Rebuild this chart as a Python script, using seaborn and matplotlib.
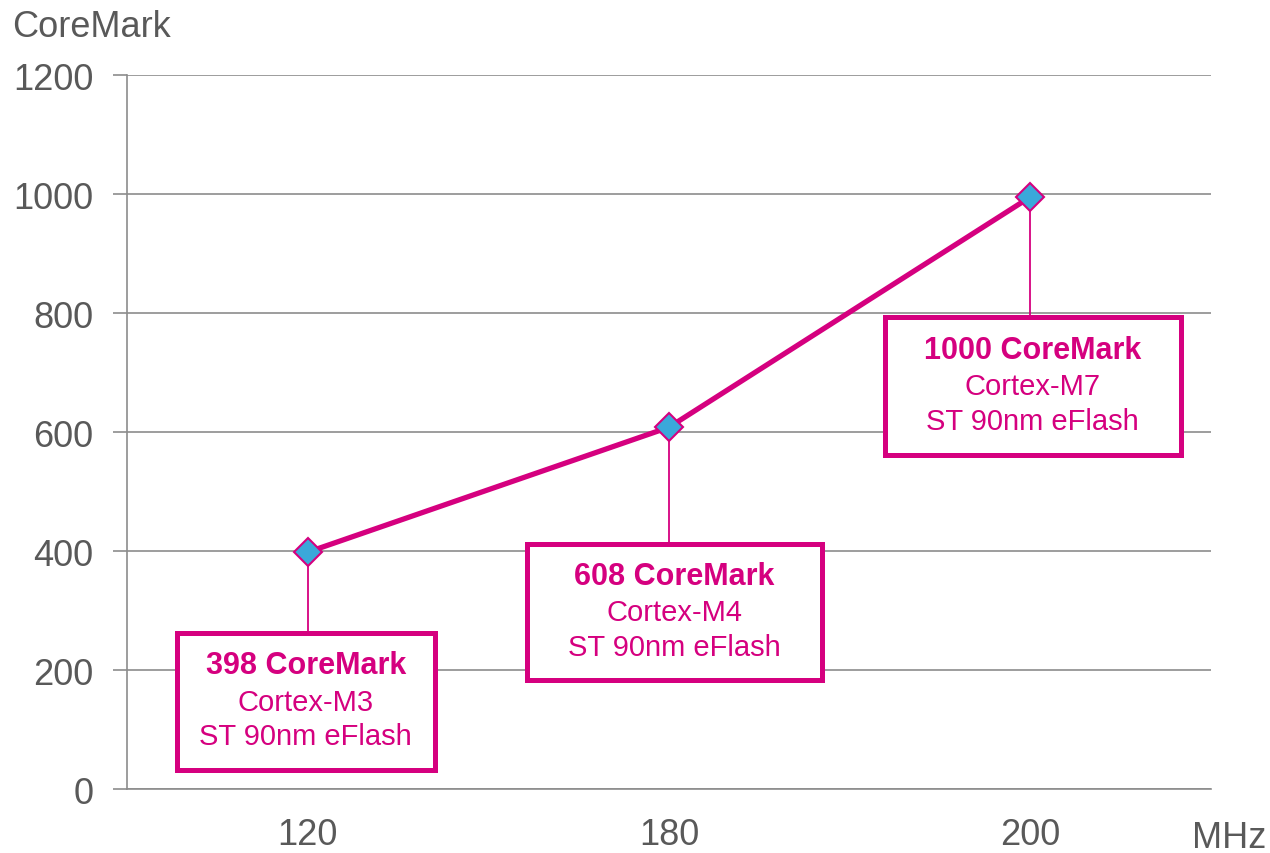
import pandas as pd
import matplotlib.pyplot as plt
import seaborn as sns
from matplotlib.patches import Rectangle

mhz = ["120", "180", "200"]
coremark = [398, 608, 995]
score_labels = ["398 CoreMark", "608 CoreMark", "1000 CoreMark"]
cores = ["Cortex-M3", "Cortex-M4", "Cortex-M7"]
process = ["ST 90nm eFlash", "ST 90nm eFlash", "ST 90nm eFlash"]

# box extents (x offset from point, y in data units)
box_x = [(-0.363, 0.352), (-0.393, 0.424), (-0.402, 0.416)]
box_y = [(32, 262), (183, 412), (561, 793)]

magenta = "#D5007F"
gray = "#595959"
gridc = "#8C8C8C"

df = pd.DataFrame({"MHz": mhz, "CoreMark": coremark})

sns.set_style("white")
plt.rcParams["font.family"] = ["Liberation Sans", "DejaVu Sans"]

fig = plt.figure(figsize=(12.7, 8.54), dpi=100)
ax = fig.add_axes([0.1, 0.0749, 0.8535, 0.8361])

sns.lineplot(data=df, x="MHz", y="CoreMark", ax=ax, color=magenta, lw=3.8,
             marker="D", markersize=14, markerfacecolor="#3AA8DA",
             markeredgecolor=magenta, markeredgewidth=1.5, sort=False, zorder=5)

ax.set_xlim(-0.5, 2.5)
ax.set_ylim(0, 1200)
ax.set_yticks(range(0, 1201, 200))
ax.grid(axis="y", color=gridc, lw=1.2)
ax.grid(axis="x", visible=False)
for s in ["top", "right"]:
    ax.spines[s].set_visible(False)
for s in ["left", "bottom"]:
    ax.spines[s].set_color(gridc)
    ax.spines[s].set_linewidth(1.2)

ax.set_xticks([0, 1, 2])
ax.set_xticklabels(mhz)
ax.set_xticks([-0.5, 0.5, 1.5, 2.5], minor=True)
ax.tick_params(axis="x", which="major", length=0, pad=20, labelsize=26, labelcolor=gray)
ax.tick_params(axis="x", which="minor", length=8, width=1.2, color=gridc, direction="out")
ax.tick_params(axis="y", length=10, width=1.2, color=gridc, pad=14, labelsize=26,
               labelcolor=gray, left=True)
ax.set_xlabel("")
ax.set_ylabel("")

fig.text(0.0095, 0.957, "CoreMark", fontsize=26, color=gray, va="baseline")
fig.text(0.997, 0.007, "MHz", fontsize=26, color=gray, ha="right", va="baseline")

for i in range(3):
    x0, x1 = box_x[i]
    y0, y1 = box_y[i]
    ax.plot([i, i], [coremark[i], y1], color=magenta, lw=1.3, zorder=3)
    ax.add_patch(Rectangle((i + x0, y0), x1 - x0, y1 - y0, facecolor="white",
                           edgecolor=magenta, lw=3.6, zorder=4))
    cy = (y0 + y1) / 2
    cx = i + (x0 + x1) / 2
    ax.annotate(score_labels[i], (cx, cy), xytext=(0, 26), textcoords="offset points",
                ha="center", va="center", fontsize=22, fontweight="bold", color=magenta, zorder=6)
    ax.annotate(cores[i], (cx, cy), xytext=(0, 0), textcoords="offset points",
                ha="center", va="center", fontsize=21, color=magenta, zorder=6)
    ax.annotate(process[i], (cx, cy), xytext=(0, -25), textcoords="offset points",
                ha="center", va="center", fontsize=21, color=magenta, zorder=6)

fig.savefig("out.png", dpi=100)
